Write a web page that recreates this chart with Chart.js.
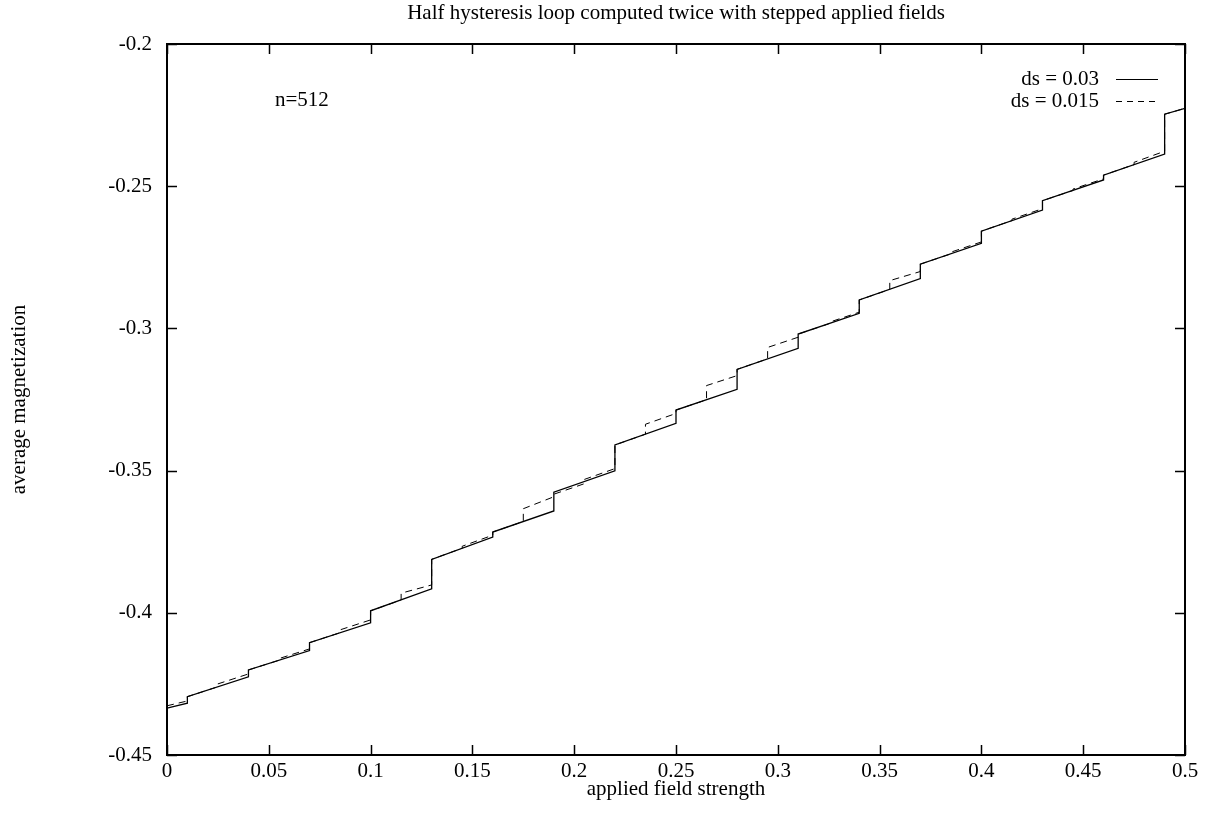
<!DOCTYPE html>
<html><head><meta charset="utf-8">
<script src="https://cdn.jsdelivr.net/npm/chart.js@4"></script>
<style>html,body{margin:0;padding:0;background:#fff}</style>
</head><body>
<canvas id="c" width="1205" height="827"></canvas>
<script>
const titleText = 'Half hysteresis loop computed twice with stepped applied fields';
const xAxisTitle = 'applied field strength';
const yAxisTitle = 'average magnetization';
const xTicks = [0, 0.05, 0.1, 0.15, 0.2, 0.25, 0.3, 0.35, 0.4, 0.45, 0.5];
const xTickLabels = ['0', '0.05', '0.1', '0.15', '0.2', '0.25', '0.3', '0.35', '0.4', '0.45', '0.5'];
const yTicks = [-0.45, -0.4, -0.35, -0.3, -0.25, -0.2];
const yTickLabels = ['-0.45', '-0.4', '-0.35', '-0.3', '-0.25', '-0.2'];

// ds = 0.03 (solid)
const solidStart = -0.4335;
const solidEnd = -0.2226;
const solidStepX = [0.01, 0.04, 0.07, 0.10, 0.13, 0.16, 0.19, 0.22, 0.25, 0.28, 0.31, 0.34, 0.37, 0.40, 0.43, 0.46, 0.49];
const solidBefore = [-0.4318, -0.4225, -0.4133, -0.4035, -0.3916, -0.3734, -0.3642, -0.3501, -0.3334, -0.3214, -0.3070, -0.2947, -0.2825, -0.2701, -0.2584, -0.2478, -0.2387];
const solidAfter  = [-0.4295, -0.4201, -0.4105, -0.3993, -0.3812, -0.3716, -0.3576, -0.3410, -0.3287, -0.3144, -0.3020, -0.2900, -0.2774, -0.2658, -0.2551, -0.2461, -0.2247];

// ds = 0.015 (dashed)
const dashStart = -0.4327;
const dashEnd = -0.2226;
const dashStepX = [0.01, 0.025, 0.04, 0.055, 0.07, 0.085, 0.10, 0.115, 0.13, 0.145, 0.16, 0.175, 0.19, 0.205, 0.22, 0.235, 0.25, 0.265, 0.28, 0.295, 0.31, 0.325, 0.34, 0.355, 0.37, 0.385, 0.40, 0.415, 0.43, 0.445, 0.46, 0.475, 0.49];
const dashBefore = [-0.4310, -0.4260, -0.4215, -0.4167, -0.4127, -0.4070, -0.4025, -0.3955, -0.3902, -0.3773, -0.3727, -0.3679, -0.3592, -0.3546, -0.3493, -0.3372, -0.3299, -0.3251, -0.3166, -0.3107, -0.3031, -0.2984, -0.2943, -0.2863, -0.2800, -0.2738, -0.2696, -0.2621, -0.2579, -0.2515, -0.2474, -0.2424, -0.2377];
const dashAfter  = [-0.4295, -0.4250, -0.4201, -0.4161, -0.4105, -0.4060, -0.3993, -0.3931, -0.3812, -0.3766, -0.3716, -0.3634, -0.3583, -0.3531, -0.3410, -0.3337, -0.3287, -0.3201, -0.3144, -0.3067, -0.3020, -0.2979, -0.2900, -0.2832, -0.2774, -0.2732, -0.2658, -0.2616, -0.2551, -0.2510, -0.2461, -0.2416, -0.2247];

const labelText = 'n=512';
const labelPos = {x: 0.053, y: -0.2197};
const legendLabels = ['ds = 0.03', 'ds = 0.015'];

function buildSteps(x0, y0, xs, before, after, x1, y1) {
  const pts = [{x: x0, y: y0}];
  for (let i = 0; i < xs.length; i++) {
    pts.push({x: xs[i], y: before[i]});
    pts.push({x: xs[i], y: after[i]});
  }
  pts.push({x: x1, y: y1});
  return pts;
}

const FONT = '"Liberation Serif", "Times New Roman", serif';
const FS = 21;

const framePlugin = {
  id: 'frame',
  afterDatasetsDraw(chart) {
    const {ctx, chartArea: a, scales} = chart;
    ctx.save();
    ctx.strokeStyle = '#000';
    ctx.lineWidth = 1.5;
    ctx.beginPath();
    xTicks.forEach(v => {
      const px = Math.round(scales.x.getPixelForValue(v)) + 0.5;
      ctx.moveTo(px, a.bottom); ctx.lineTo(px, a.bottom - 10);
      ctx.moveTo(px, a.top); ctx.lineTo(px, a.top + 10);
    });
    yTicks.forEach(v => {
      const py = Math.round(scales.y.getPixelForValue(v)) + 0.5;
      ctx.moveTo(a.left, py); ctx.lineTo(a.left + 10, py);
      ctx.moveTo(a.right, py); ctx.lineTo(a.right - 10, py);
    });
    ctx.stroke();
    ctx.lineWidth = 2;
    ctx.strokeRect(a.left, a.top, a.right - a.left, a.bottom - a.top);

    ctx.fillStyle = '#000';
    ctx.font = FS + 'px ' + FONT;
    // title
    ctx.textAlign = 'center';
    ctx.textBaseline = 'middle';
    ctx.fillText(titleText, (a.left + a.right) / 2, 13);
    // label
    ctx.textAlign = 'left';
    ctx.fillText(labelText, scales.x.getPixelForValue(labelPos.x), scales.y.getPixelForValue(labelPos.y));
    // legend
    const lx = a.right - 86;
    const rows = [79, 101];
    ctx.textAlign = 'right';
    legendLabels.forEach((t, i) => ctx.fillText(t, lx, rows[i]));
    ctx.lineWidth = 1.2;
    ctx.beginPath();
    ctx.moveTo(lx + 17, rows[0] + 0.5); ctx.lineTo(lx + 59, rows[0] + 0.5);
    ctx.stroke();
    ctx.setLineDash([6, 5]);
    ctx.beginPath();
    ctx.moveTo(lx + 17, rows[1] + 0.5); ctx.lineTo(lx + 59, rows[1] + 0.5);
    ctx.stroke();
    ctx.restore();
  }
};

new Chart(document.getElementById('c'), {
  type: 'scatter',
  data: {
    datasets: [
      {
        label: legendLabels[0],
        data: buildSteps(0, solidStart, solidStepX, solidBefore, solidAfter, 0.5, solidEnd),
        showLine: true, borderColor: '#000', borderWidth: 1.3, pointRadius: 0, tension: 0, fill: false
      },
      {
        label: legendLabels[1],
        data: buildSteps(0, dashStart, dashStepX, dashBefore, dashAfter, 0.5, dashEnd),
        showLine: true, borderColor: '#000', borderWidth: 1, borderDash: [7, 5], pointRadius: 0, tension: 0, fill: false
      }
    ]
  },
  options: {
    responsive: false,
    animation: false,
    devicePixelRatio: 1,
    layout: {padding: {top: 44, right: 20, left: 0, bottom: 0}},
    plugins: {legend: {display: false}, tooltip: {enabled: false}, title: {display: false}},
    scales: {
      x: {
        type: 'linear', min: 0, max: 0.5,
        afterBuildTicks: s => { s.ticks = xTicks.map(v => ({value: v})); },
        afterFit: s => { s.height = 72; },
        grid: {display: false, drawTicks: false, tickLength: 0},
        border: {display: false},
        ticks: {
          callback: (v, i) => xTickLabels[i],
          color: '#000', font: {family: FONT, size: FS}, padding: 4, maxRotation: 0, autoSkip: false
        },
        title: {display: true, text: xAxisTitle, color: '#000', font: {family: FONT, size: FS}, padding: {top: 0, bottom: 25}}
      },
      y: {
        type: 'linear', min: -0.45, max: -0.2,
        afterBuildTicks: s => { s.ticks = yTicks.map(v => ({value: v})); },
        afterFit: s => { s.width = 167; },
        grid: {display: false, drawTicks: false, tickLength: 0},
        border: {display: false},
        ticks: {
          callback: (v, i) => yTickLabels[i],
          color: '#000', font: {family: FONT, size: FS}, padding: 15, autoSkip: false
        },
        title: {display: true, text: yAxisTitle, color: '#000', font: {family: FONT, size: FS}, padding: {top: 7, bottom: 0}}
      }
    }
  },
  plugins: [framePlugin]
});
</script>
</body></html>
